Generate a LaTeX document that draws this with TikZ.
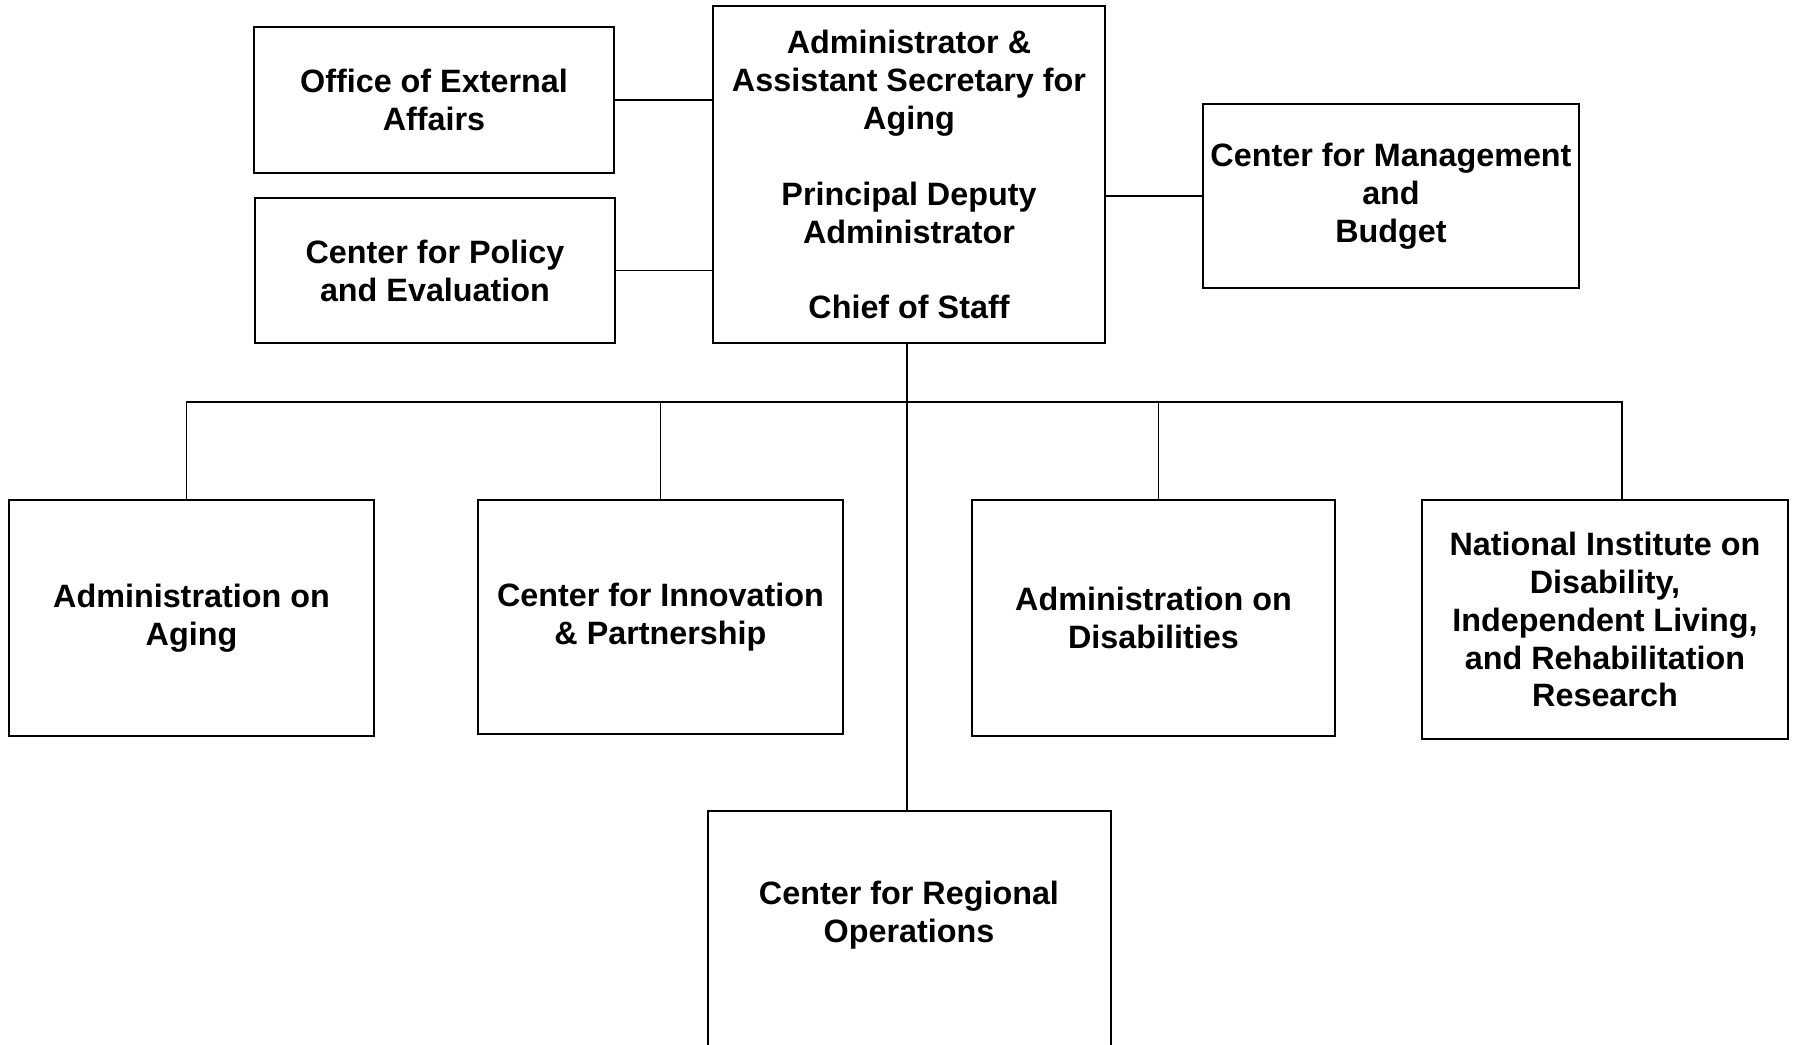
\documentclass[tikz,border=0pt]{standalone}
\usepackage{fontspec}
\setmainfont{Liberation Sans}
\usetikzlibrary{positioning}

\tikzset{
  orgbox/.style={draw, line width=0.6pt, inner sep=0pt, outer sep=0pt, align=center,
    font=\fontsize{9.2}{10.8}\selectfont\bfseries},
  orgtext/.style={align=center, font=\fontsize{9.2}{10.8}\selectfont\bfseries},
  orgline/.style={line width=0.45pt}
}

\begin{document}
\begin{tikzpicture}
  \useasboundingbox (0,0) rectangle (17.94,-10.44);
  \clip (0,0) rectangle (17.94,-10.44);

  \node[orgbox, minimum width=3.92cm, minimum height=3.37cm](Admin) at (9.09,-1.745) {Administrator \&\\
    Assistant Secretary for\\
    Aging\\[10.8pt]
    Principal Deputy\\
    Administrator\\[10.8pt]
    Chief of Staff};
  \node[orgbox, minimum width=3.60cm, minimum height=1.46cm](Office) at (4.34,-1.00) {Office of External\\ Affairs};
  \node[orgbox, minimum width=3.60cm, minimum height=1.45cm](Policy) at (4.35,-2.705) {Center for Policy\\ and Evaluation};
  \node[orgbox, minimum width=3.76cm, minimum height=1.84cm](Mgmt) at (13.91,-1.96) {Center for Management\\ and\\ Budget};

  \node[orgbox, minimum width=3.65cm, minimum height=2.36cm](AoA) at (1.915,-6.18) {Administration on\\ Aging};
  \node[orgbox, minimum width=3.65cm, minimum height=2.34cm](Innov) at (6.605,-6.17) {Center for Innovation\\ \& Partnership};
  \node[orgbox, minimum width=3.63cm, minimum height=2.36cm](AoD) at (11.535,-6.18) {Administration on\\ Disabilities};
  \node[orgbox, minimum width=3.66cm, minimum height=2.39cm](Nid) at (16.05,-6.195) {National Institute on\\ Disability,\\ Independent Living,\\ and Rehabilitation\\ Research};

  \node[orgbox, anchor=north, minimum width=4.03cm, minimum height=2.6cm](Regional) at (9.095,-8.11) {};
  \node[orgtext](RegionalTxt) at (9.09,-9.15) {Center for Regional\\ Operations};

  \coordinate (Bus) at (9.07,-4.02);

  \draw[orgline] (Office) -- (Admin.west |- Office.east);
  \draw[orgline] (Policy) -- (Admin.west |- Policy.east);
  \draw[orgline] (Admin.east |- Mgmt.west) -- (Mgmt);
  \draw[orgline] (Admin.south -| Bus) -- (Regional.north -| Bus);
  \draw[orgline] ([xshift=-0.05cm]AoA.north) -- ([xshift=-0.05cm]AoA.north |- Bus)
    -- ([xshift=0.17cm]Nid.north |- Bus) -- ([xshift=0.17cm]Nid.north);
  \draw[orgline] (Innov.north) -- (Innov.north |- Bus);
  \draw[orgline] ([xshift=0.05cm]AoD.north) -- ([xshift=0.05cm]AoD.north |- Bus);
\end{tikzpicture}
\end{document}
